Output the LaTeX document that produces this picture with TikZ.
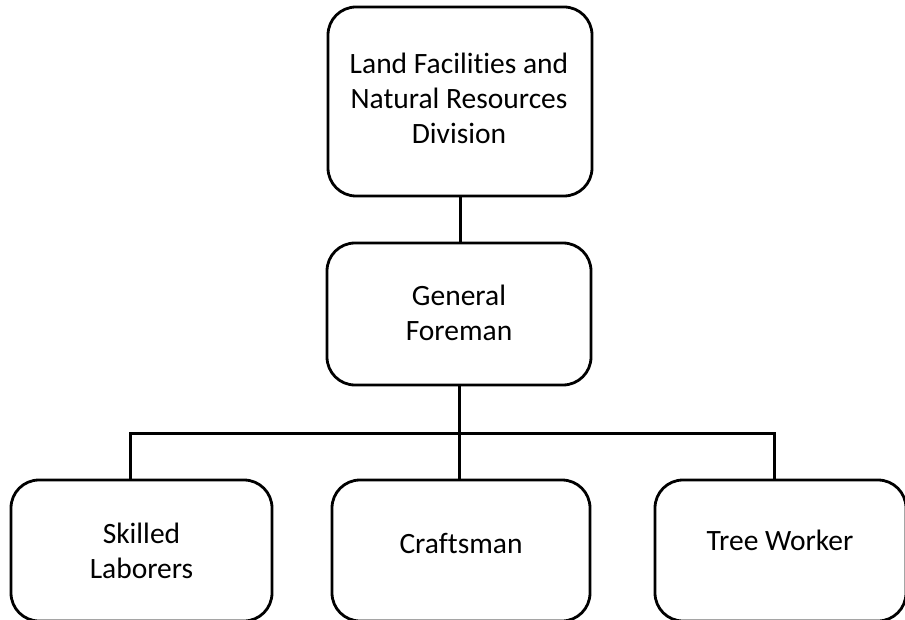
\documentclass[tikz,border=0pt]{standalone}
\usepackage{fontspec}
\setmainfont[Ligatures={NoCommon}]{Carlito}
\begin{document}
\begin{tikzpicture}[x=1pt,y=-1pt,
  box/.style={draw=black,line width=2.8pt,rounded corners=28pt,inner sep=0pt,outer sep=0pt,fill=white,align=center,
    font=\fontsize{29.5pt}{35pt}\selectfont},
  lbl/.style={inner sep=0pt,align=center,font=\fontsize{29.5pt}{35pt}\selectfont},
  conn/.style={draw=black,line width=3pt}]
\useasboundingbox (0,0) rectangle (905,620);
\begin{scope}
\clip (0,0) rectangle (905,620);
\node[box,minimum width=264pt,minimum height=189pt] (top) at (460,101.5) {};
\node[box,minimum width=264pt,minimum height=142pt] (mid) at (459,314) {};
\node[box,minimum width=261pt,minimum height=141pt] (bl) at (141.5,550.5) {};
\node[box,minimum width=258pt,minimum height=141pt] (bm) at (461,550.5) {};
\node[box,minimum width=251pt,minimum height=141pt] (br) at (780.5,550.5) {};
\node[lbl] (topt) at (459,98) {Land Facilities and\\Natural Resources\\Division};
\node[lbl] (midt) at (459,313) {General\\Foreman};
\node[lbl] (blt) at (141.5,551) {Skilled\\Laborers};
\node[lbl] (bmt) at (461,543.5) {Craftsman};
\node[lbl] (brt) at (780,540.5) {Tree Worker};
\coordinate (j) at (459,433);
\coordinate (jl) at (130,433);
\coordinate (jr) at (774,433);
\draw[conn] (top.south) -- (top.south |- mid.north);
\draw[conn] (mid.south) -- (j);
\draw[conn,line cap=rect] (jl) -- (jr);
\draw[conn] (jl) -- (jl |- bl.north);
\draw[conn] (j) -- (j |- bm.north);
\draw[conn] (jr) -- (jr |- br.north);
\end{scope}
\end{tikzpicture}
\end{document}
